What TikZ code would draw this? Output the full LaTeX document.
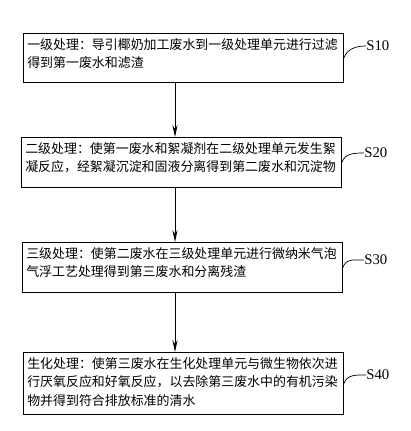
\documentclass[tikz,border=0pt]{standalone}
\usepackage{fontspec}
\setmainfont{Liberation Serif}
\newfontfamily\cjk{Noto Sans CJK SC}
\usetikzlibrary{arrows.meta}
\begin{document}
\begin{tikzpicture}[x=0.025cm,y=-0.025cm,>={Stealth[length=3mm,width=1.3mm]},
  stepbox/.style={draw,line width=0.6pt,anchor=north west,minimum width=8cm,inner sep=0pt},
  steptext/.style={anchor=north west,inner sep=0pt,text width=8cm,align=left,
    font=\cjk\fontsize{9.2}{13.2}\selectfont},
  steplabel/.style={anchor=west,inner sep=0pt,font=\fontsize{10.5}{12}\selectfont}]
\useasboundingbox (0,0) rectangle (411,431);
% 四个处理步骤的方框
\node[stepbox,minimum height=1.225cm] (b1) at (23,33) {};
\node[stepbox,minimum height=1.25cm] (b2) at (21,137) {};
\node[stepbox,minimum height=1.25cm] (b3) at (22,242) {};
\node[stepbox,minimum height=1.55cm] (b4) at (23,352) {};
% 方框里的文字
\node[steptext] (t1) at (27,38) {一级处理：导引椰奶加工废水到一级处理单元进行过滤\\得到第一废水和滤渣};
\node[steptext] (t2) at (25,142) {二级处理：使第一废水和絮凝剂在二级处理单元发生絮\\凝反应，经絮凝沉淀和固液分离得到第二废水和沉淀物};
\node[steptext] (t3) at (26,247) {三级处理：使第二废水在三级处理单元进行微纳米气泡\\气浮工艺处理得到第三废水和分离残渣};
\node[steptext] (t4) at (27,357) {生化处理：使第三废水在生化处理单元与微生物依次进\\行厌氧反应和好氧反应，以去除第三废水中的有机污染\\物并得到符合排放标准的清水};
% 步骤编号
\node[steplabel] (l1) at (366,46) {S10};
\node[steplabel] (l2) at (364,153) {S20};
\node[steplabel] (l3) at (364,260) {S30};
\node[steplabel] (l4) at (366,375) {S40};
\draw[line width=0.5pt] (b1.east) .. controls +(3,-9) and +(-10,0) .. (l1.west);
\draw[line width=0.5pt] (b2.east) .. controls +(3,-9) and +(-10,0) .. (l2.west);
\draw[line width=0.5pt] (b3.east) .. controls +(3,-9) and +(-10,0) .. (l3.west);
\draw[line width=0.5pt] (b4.east) .. controls +(3,-9) and +(-10,0) .. (l4.west);
% 步骤之间的箭头
\coordinate (ax) at (175,0);
\draw[->,line width=0.6pt] (b1.south -| ax) -- (b2.north -| ax);
\draw[->,line width=0.6pt] (b2.south -| ax) -- (b3.north -| ax);
\draw[->,line width=0.6pt] (b3.south -| ax) -- (b4.north -| ax);
\end{tikzpicture}
\end{document}
